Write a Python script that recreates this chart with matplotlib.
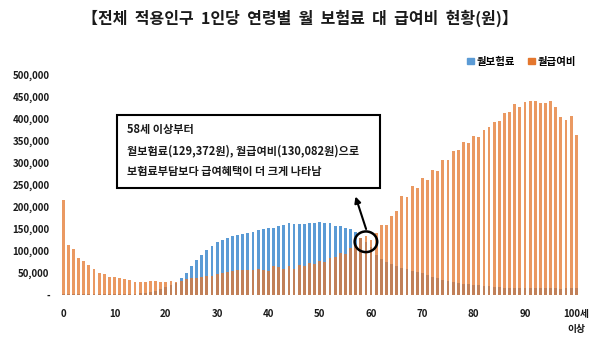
import matplotlib
matplotlib.use("Agg")
import matplotlib.pyplot as plt
import numpy as np
from matplotlib.patches import Ellipse, Patch, Rectangle

plt.rcParams["font.family"] = ["Noto Sans CJK KR", "DejaVu Sans"]

# 연령 (0 ~ 100세 이상)
ages = list(range(101))

# 1인당 월 보험료 (천원)
premium_k = [
    3, 3, 3, 3, 3, 3, 3, 3, 3, 3,             # 0-9
    3, 3, 3, 3, 3, 4, 5, 7, 10, 14,           # 10-19
    18, 22, 28, 38, 50, 65, 80, 92, 103, 112,  # 20-29
    120, 126, 130, 134, 137, 139, 141, 144, 147, 150,  # 30-39
    152, 153, 157, 159, 163, 161, 161, 161, 164, 164,  # 40-49
    166, 164, 163, 158, 157, 153, 149, 143, 129.372, 120,  # 50-59
    108, 92, 82, 76, 71, 66, 62, 58, 55, 52,  # 60-69
    49, 45, 41, 38, 35, 32, 30, 28, 26, 24,   # 70-79
    23, 22, 21, 20, 19, 18, 17, 17, 16, 16,   # 80-89
    16, 15, 15, 16, 15, 15, 15, 14, 15, 15,   # 90-99
    16,                                       # 100+
]

# 1인당 월 급여비 (천원)
benefit_k = [
    217, 113, 104, 84, 77, 69, 60, 51, 47, 42,   # 0-9
    41, 38, 36, 33, 29, 30, 30, 32, 32, 29,      # 10-19
    30, 31, 30, 32, 36, 38, 39, 41, 43, 44,      # 20-29
    47, 50, 52, 55, 56, 56, 57, 57, 59, 56,      # 30-39
    55, 65, 63, 59, 65, 60, 68, 65, 72, 70,      # 40-49
    78, 76, 84, 87, 95, 93, 106, 113, 130.082, 133,  # 50-59
    126, 142, 159, 159, 180, 191, 226, 223, 247, 243,  # 60-69
    265, 262, 285, 283, 306, 306, 328, 329, 348, 346,  # 70-79
    362, 360, 375, 383, 393, 396, 413, 417, 434, 428,  # 80-89
    440, 442, 442, 436, 437, 442, 428, 404, 398, 407,  # 90-99
    363,                                           # 100+
]

premium = np.array(premium_k) * 1000
benefit = np.array(benefit_k) * 1000

BLUE = "#5B9BD5"
ORANGE = "#E4772E"
TEXT = "#1a1a1a"

fig = plt.figure(figsize=(6, 3.43), dpi=100)
ax = fig.add_axes([0.092, 0.14, 0.883, 0.641])

ax.bar(ages, premium, width=0.55, color=BLUE, linewidth=0)
ax.bar(ages, benefit, width=0.55, color=ORANGE, alpha=0.75, linewidth=0)

ax.set_xlim(-1.56, 101.7)
ax.set_ylim(0, 500000)

yticks = list(range(0, 500001, 50000))
ax.set_yticks(yticks)
ax.set_yticklabels(["-"] + [f"{v:,}" for v in yticks[1:]])
xticks = list(range(0, 101, 10))
ax.set_xticks(xticks)
xlabels = ax.set_xticklabels([str(v) for v in xticks[:-1]] + ["100세\n이상"])
xlabels[-1].set_linespacing(1.7)

ax.tick_params(axis="both", length=0, labelsize=7, labelcolor=TEXT)
ax.tick_params(axis="x", pad=10)
ax.tick_params(axis="y", pad=4)
for lab in ax.get_xticklabels() + ax.get_yticklabels():
    lab.set_fontweight("bold")
for side in ["top", "right", "left", "bottom"]:
    ax.spines[side].set_visible(False)

fig.text(0.5, 0.947, "【전체  적용인구  1인당  연령별  월  보험료  대  급여비  현황(원)】",
         ha="center", va="center", fontsize=11.5, fontweight="bold", color=TEXT)

handles = [Patch(color=BLUE, label="월보험료"), Patch(color=ORANGE, label="월급여비")]
fig.legend(handles=handles, loc="center right", bbox_to_anchor=(0.975, 0.82),
           ncol=2, frameon=False, handlelength=0.6, handleheight=0.6,
           handletextpad=0.25, columnspacing=1.3, prop={"weight": "bold", "size": 7.5})

# 설명 박스
fig.patches.append(Rectangle((0.195, 0.452), 0.438, 0.213, transform=fig.transFigure,
                             facecolor="white", edgecolor="black", linewidth=1.5))
notes = [
    "58세 이상부터",
    "월보험료(129,372원), 월급여비(130,082원)으로",
    "보험료부담보다 급여혜택이 더 크게 나타남",
]
for y, line in zip([0.621, 0.560, 0.501], notes):
    fig.text(0.212, y, line, ha="left", va="center", fontsize=8, fontweight="bold", color=TEXT)

# 교차 지점 표시
ax.add_patch(Ellipse((59, 121000), 4.4, 47000, facecolor="none",
                     edgecolor="black", linewidth=1.8, zorder=5))
ax.annotate("", xy=(56.8, 230000), xytext=(59.2, 144000),
            arrowprops=dict(arrowstyle="-|>", color="black", lw=1.5,
                            mutation_scale=9), zorder=5)

fig.savefig("out.png", dpi=100)
